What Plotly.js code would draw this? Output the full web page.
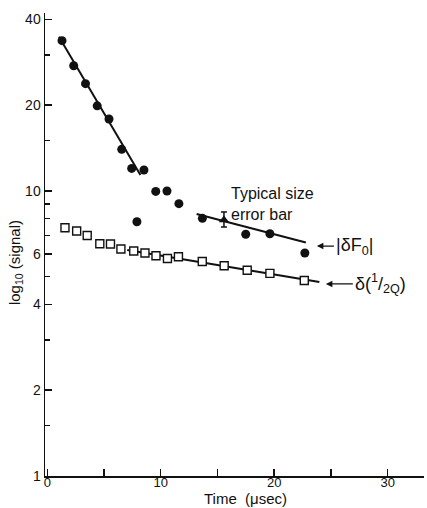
<!DOCTYPE html>
<html>
<head>
<meta charset="utf-8">
<script src="https://cdn.plot.ly/plotly-3.0.1.min.js"></script>
<style>html,body{margin:0;padding:0;background:#fff;}#chart{width:427px;height:508px;}</style>
</head>
<body>
<div id="chart"></div>
<script>
// |δF0| data (filled circles)
const circleX = [1.30, 2.33, 3.37, 4.40, 5.44, 6.56, 7.44, 7.90, 8.52, 9.56, 10.55, 11.60, 13.67, 17.49, 19.62, 22.70];
const circleY = [33.7, 27.5, 23.8, 19.9, 17.9, 14.0, 12.0, 7.80, 11.85, 9.97, 10.0, 9.03, 8.02, 7.05, 7.08, 6.06];
// typical error bar point
const errX = [15.57];
const errY = [7.91];
const errPlus = [0.53];
const errMinus = [0.43];
// δ(1/2Q) data (open squares)
const squareX = [1.56, 2.59, 3.52, 4.63, 5.57, 6.49, 7.62, 8.61, 9.58, 10.59, 11.56, 13.66, 15.59, 17.62, 19.62, 22.65];
const squareY = [7.43, 7.24, 6.98, 6.53, 6.52, 6.26, 6.16, 6.06, 5.93, 5.80, 5.88, 5.66, 5.47, 5.27, 5.14, 4.85];
// fitted lines (end points)
const fitEarlyX = [1.03, 8.21];
const fitEarlyY = [34.8, 11.38];
const fitLateX = [13.16, 22.79];
const fitLateY = [8.30, 6.60];
const fitQX = [7.05, 23.98];
const fitQY = [6.21, 4.79];
// ticks
const xTicks = [0, 10, 20, 30];
const xMinor = [5, 15, 25];
const yTicks = [1, 2, 4, 6, 10, 20, 40];
const yTickText = ['1', '2', '4', '6', '10', '20', '40'];
const yMinor = [1.5, 3, 5, 7, 8, 9, 15, 30];

const ink = '#111';
const font = 'Liberation Sans, Arial, sans-serif';

const lineStyle = {color: ink, width: 2};
const traces = [
  {x: fitEarlyX, y: fitEarlyY, mode: 'lines', line: lineStyle, hoverinfo: 'skip'},
  {x: fitLateX, y: fitLateY, mode: 'lines', line: lineStyle, hoverinfo: 'skip'},
  {x: fitQX, y: fitQY, mode: 'lines', line: lineStyle, hoverinfo: 'skip'},
  {x: circleX, y: circleY, mode: 'markers', marker: {symbol: 'circle', size: 9, color: ink}},
  {x: squareX, y: squareY, mode: 'markers', marker: {symbol: 'square', size: 8, color: '#fff', line: {color: ink, width: 1.4}}},
  {x: errX, y: errY, mode: 'markers', marker: {symbol: 'triangle-up', size: 9, color: ink},
   error_y: {type: 'data', symmetric: false, array: errPlus, arrayminus: errMinus, color: ink, thickness: 1.5, width: 3}}
];

const layout = {
  width: 427, height: 508,
  margin: {l: 45, r: 3, t: 13, b: 32},
  paper_bgcolor: '#fff', plot_bgcolor: '#fff',
  showlegend: false,
  font: {family: font, color: ink, size: 14},
  xaxis: {
    range: [-0.2, 33.2], showgrid: false, zeroline: false,
    showline: true, linecolor: ink, linewidth: 1.5,
    tickmode: 'array', tickvals: xTicks, ticktext: xTicks.map(String),
    ticks: 'inside', ticklen: 7, tickwidth: 1.5, tickcolor: ink,
    ticklabelstandoff: -6,
    tickfont: {size: 13, family: font, color: ink},
    minor: {tickmode: 'array', tickvals: xMinor, ticks: 'inside', ticklen: 7, tickwidth: 1.5, tickcolor: ink, showgrid: false}
  },
  yaxis: {
    type: 'log', range: [0, 1.6246], showgrid: false, zeroline: false,
    showline: true, linecolor: ink, linewidth: 1.5,
    tickmode: 'array', tickvals: yTicks, ticktext: yTickText,
    ticks: 'inside', ticklen: 7, tickwidth: 1.5, tickcolor: ink,
    tickfont: {size: 14, family: font, color: ink},
    minor: {tickmode: 'array', tickvals: yMinor, ticks: 'inside', ticklen: 5, tickwidth: 1.3, tickcolor: ink, showgrid: false}
  },
  annotations: [
    {x: 16.0, y: Math.log10(9.04), xref: 'x', yref: 'y', text: 'Typical size<br>error bar',
     showarrow: false, xanchor: 'left', yanchor: 'middle', align: 'left',
     font: {size: 16, family: font, color: ink}},
    {x: 23.76, y: Math.log10(6.41), xref: 'x', yref: 'y', text: '|δF<sub>0</sub>|',
     showarrow: true, ax: 17, ay: 0, xanchor: 'left', arrowhead: 2, arrowsize: 1, arrowwidth: 1.3, arrowcolor: ink,
     font: {size: 18, family: font, color: ink}},
    {x: 24.55, y: Math.log10(4.72), xref: 'x', yref: 'y', text: 'δ(<sup>1</sup>/<sub>2Q</sub>)',
     showarrow: true, ax: 27, ay: 0, xanchor: 'left', arrowhead: 2, arrowsize: 1, arrowwidth: 1.3, arrowcolor: ink,
     font: {size: 18, family: font, color: ink}},
    {x: 0.528, y: -0.0691, xref: 'paper', yref: 'paper', text: 'Time  (μsec)', borderpad: 0,
     showarrow: false, xanchor: 'center', yanchor: 'bottom', font: {size: 15, family: font, color: ink}},
    {x: -0.079, y: 0.46, xref: 'paper', yref: 'paper', text: 'log<sub>10</sub> (signal)', textangle: -90,
     showarrow: false, xanchor: 'center', yanchor: 'middle', font: {size: 15, family: font, color: ink}}
  ]
};

Plotly.newPlot('chart', traces, layout, {displayModeBar: false, staticPlot: true});
</script>
</body>
</html>
